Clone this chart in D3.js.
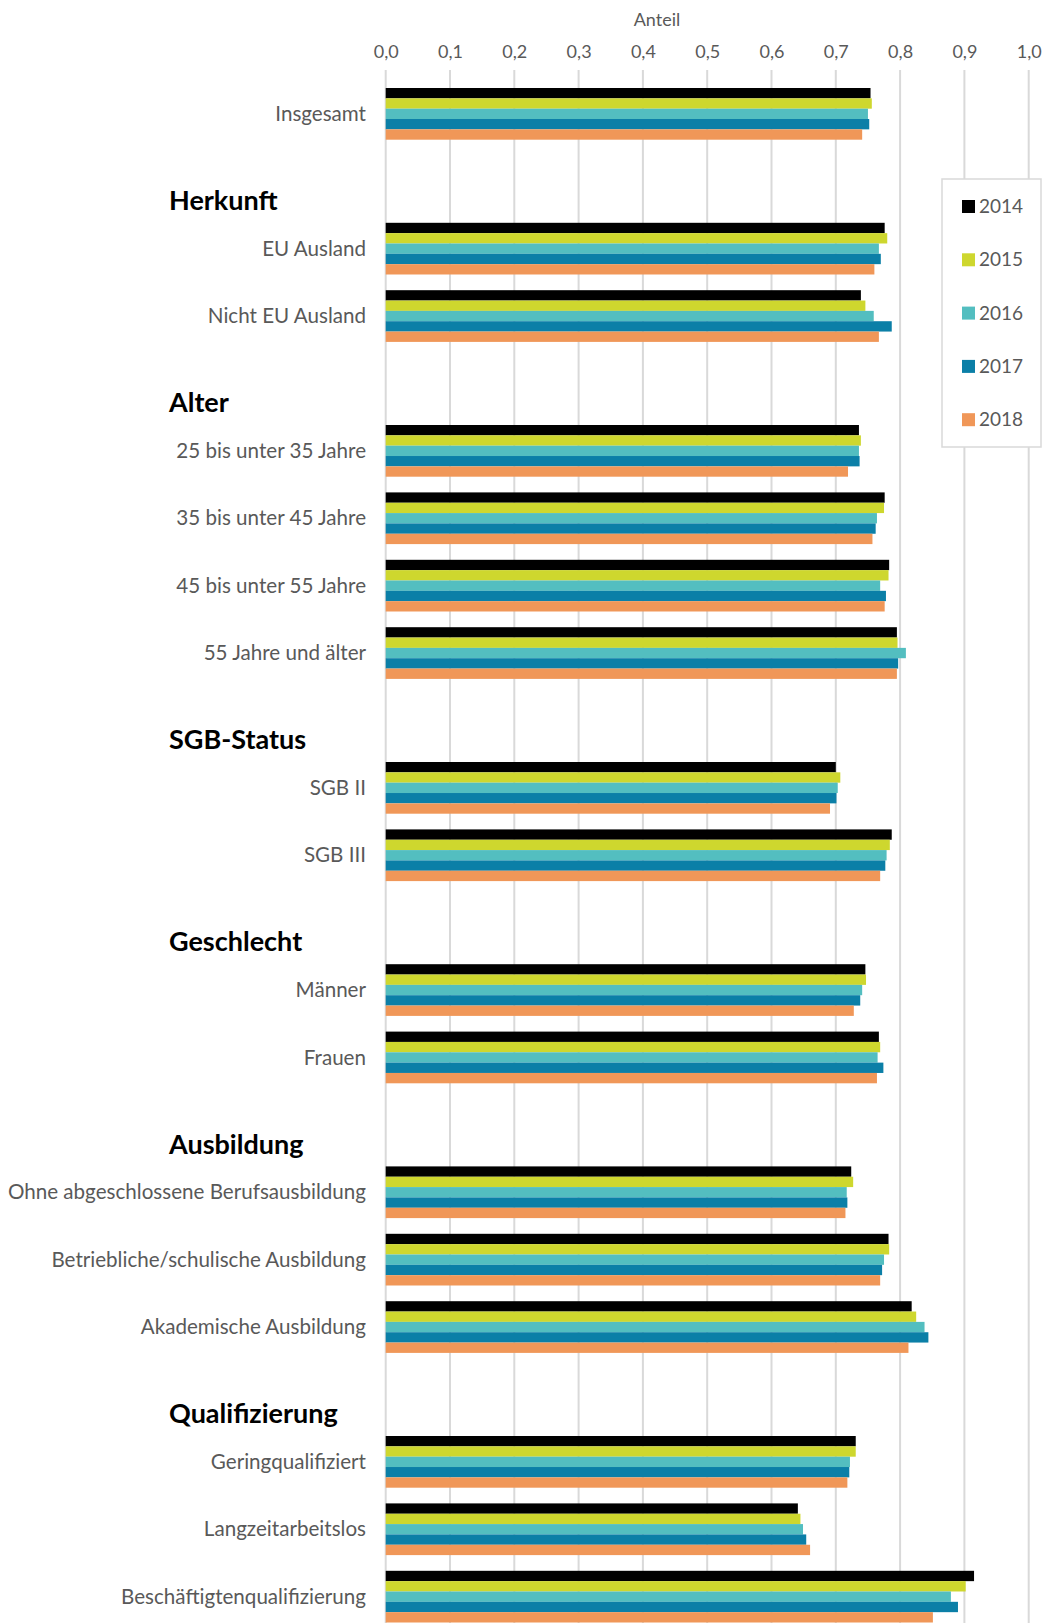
<!DOCTYPE html>
<html>
<head>
<meta charset="utf-8">
<script src="https://cdn.jsdelivr.net/npm/d3@7"></script>
<style>
body { margin: 0; background: #fff; }
svg { display: block; font-family: Lato, "Open Sans", sans-serif; }
</style>
</head>
<body>
<div id="chart"></div>
<script>
var width = 1046;
var height = 1623;

// all rows of the chart, group headers included (they get no bars)
var rowOrder = ["Insgesamt", "Herkunft", "EU Ausland", "Nicht EU Ausland", "Alter",
	"25 bis unter 35 Jahre", "35 bis unter 45 Jahre", "45 bis unter 55 Jahre", "55 Jahre und älter",
	"SGB-Status", "SGB II", "SGB III", "Geschlecht", "Männer", "Frauen", "Ausbildung",
	"Ohne abgeschlossene Berufsausbildung", "Betriebliche/schulische Ausbildung", "Akademische Ausbildung",
	"Qualifizierung", "Geringqualifiziert", "Langzeitarbeitslos", "Beschäftigtenqualifizierung"];

var headers = ["Herkunft", "Alter", "SGB-Status", "Geschlecht", "Ausbildung", "Qualifizierung"];

var categories = ["Insgesamt", "EU Ausland", "Nicht EU Ausland", "25 bis unter 35 Jahre",
	"35 bis unter 45 Jahre", "45 bis unter 55 Jahre", "55 Jahre und älter", "SGB II", "SGB III",
	"Männer", "Frauen", "Ohne abgeschlossene Berufsausbildung", "Betriebliche/schulische Ausbildung",
	"Akademische Ausbildung", "Geringqualifiziert", "Langzeitarbeitslos", "Beschäftigtenqualifizierung"];

var years = ["2014", "2015", "2016", "2017", "2018"];

var v2014 = [0.754, 0.776, 0.739, 0.736, 0.776, 0.783, 0.795, 0.700, 0.787, 0.746, 0.767, 0.724, 0.782, 0.818, 0.731, 0.641, 0.915];
var v2015 = [0.756, 0.780, 0.746, 0.739, 0.775, 0.782, 0.796, 0.707, 0.784, 0.747, 0.769, 0.727, 0.783, 0.825, 0.731, 0.645, 0.902];
var v2016 = [0.750, 0.767, 0.759, 0.736, 0.764, 0.769, 0.809, 0.703, 0.779, 0.741, 0.765, 0.717, 0.775, 0.838, 0.722, 0.649, 0.879];
var v2017 = [0.752, 0.770, 0.787, 0.737, 0.762, 0.778, 0.797, 0.701, 0.777, 0.738, 0.774, 0.718, 0.772, 0.844, 0.721, 0.654, 0.890];
var v2018 = [0.741, 0.760, 0.767, 0.719, 0.757, 0.776, 0.795, 0.691, 0.769, 0.728, 0.764, 0.715, 0.769, 0.813, 0.718, 0.660, 0.851];

var xTicks = [0, 0.1, 0.2, 0.3, 0.4, 0.5, 0.6, 0.7, 0.8, 0.9, 1.0];

var colors = ["#000000", "#ced72e", "#53bec0", "#0b7fa7", "#f09758"];

window.onload = start;

function start() {
	var series = [v2014, v2015, v2016, v2017, v2018];

	// one record per bar
	var bars = [];
	for (var i = 0; i < categories.length; ++i) {
		for (var j = 0; j < years.length; ++j) {
			bars.push({cat: categories[i], year: years[j], value: series[j][i]});
		}
	}

	var xScale = d3.scaleLinear().domain([0, 1]).range([385.7, 1028.7]);
	var yScale = d3.scaleBand().domain(rowOrder).range([88, 1622.5]).paddingInner(0.233).paddingOuter(0);
	var yInner = d3.scaleBand().domain(years).range([0, yScale.bandwidth()]);
	var color = d3.scaleOrdinal().domain(years).range(colors);

	var chart = d3.select("#chart")
		.append("svg")
		.attr("width", width)
		.attr("height", height);

	// gridlines
	chart.append("g")
		.selectAll("line")
		.data(xTicks)
		.enter()
		.append("line")
		.attr("x1", function(d) { return xScale(d); })
		.attr("x2", function(d) { return xScale(d); })
		.attr("y1", 70)
		.attr("y2", height)
		.attr("stroke", "#d9d9d9")
		.attr("stroke-width", 2);

	// top axis, labels only
	var xAxis = d3.axisTop(xScale)
		.tickValues(xTicks)
		.tickSize(0)
		.tickPadding(0)
		.tickFormat(function(d) { return d3.format(".1f")(d).replace(".", ","); });

	var axisG = chart.append("g")
		.attr("transform", "translate(0,58)")
		.call(xAxis);
	axisG.select(".domain").remove();
	axisG.selectAll("text")
		.attr("fill", "#595959")
		.style("font-size", "18px")
		.style("font-family", "Lato, sans-serif");

	chart.append("text")
		.attr("x", 657)
		.attr("y", 26)
		.attr("text-anchor", "middle")
		.attr("fill", "#595959")
		.style("font-size", "18px")
		.text("Anteil");

	// bars
	chart.append("g")
		.selectAll("rect")
		.data(bars)
		.enter()
		.append("rect")
		.attr("x", xScale(0))
		.attr("y", function(d) { return yScale(d.cat) + yInner(d.year); })
		.attr("width", function(d) { return xScale(d.value) - xScale(0); })
		.attr("height", yInner.bandwidth())
		.attr("fill", function(d) { return color(d.year); });

	// category labels
	chart.append("g")
		.selectAll("text")
		.data(categories)
		.enter()
		.append("text")
		.attr("x", 366)
		.attr("y", function(d) { return yScale(d) + yScale.bandwidth() / 2; })
		.attr("dy", "0.35em")
		.attr("text-anchor", "end")
		.attr("fill", "#595959")
		.style("font-size", "20.6px")
		.text(function(d) { return d; });

	// group headers
	chart.append("g")
		.selectAll("text")
		.data(headers)
		.enter()
		.append("text")
		.attr("x", 169)
		.attr("y", function(d) { return yScale(d) + yScale.bandwidth() + 3; })
		.attr("fill", "#000")
		.style("font-size", "27px")
		.style("font-weight", "bold")
		.text(function(d) { return d; });

	// legend
	var legend = chart.append("g");
	legend.append("rect")
		.attr("x", 942)
		.attr("y", 179)
		.attr("width", 99)
		.attr("height", 268)
		.attr("fill", "#fff")
		.attr("stroke", "#d9d9d9")
		.attr("stroke-width", 1.5);

	var items = legend.selectAll(".item")
		.data(years)
		.enter()
		.append("g")
		.attr("class", "item")
		.attr("transform", function(d, i) { return "translate(962," + (200 + i * 53.3) + ")"; });
	items.append("rect")
		.attr("width", 13)
		.attr("height", 13)
		.attr("fill", function(d) { return color(d); });
	items.append("text")
		.attr("x", 17)
		.attr("y", 6.5)
		.attr("dy", "0.35em")
		.attr("fill", "#595959")
		.style("font-size", "19px")
		.text(function(d) { return d; });
}
</script>
</body>
</html>
